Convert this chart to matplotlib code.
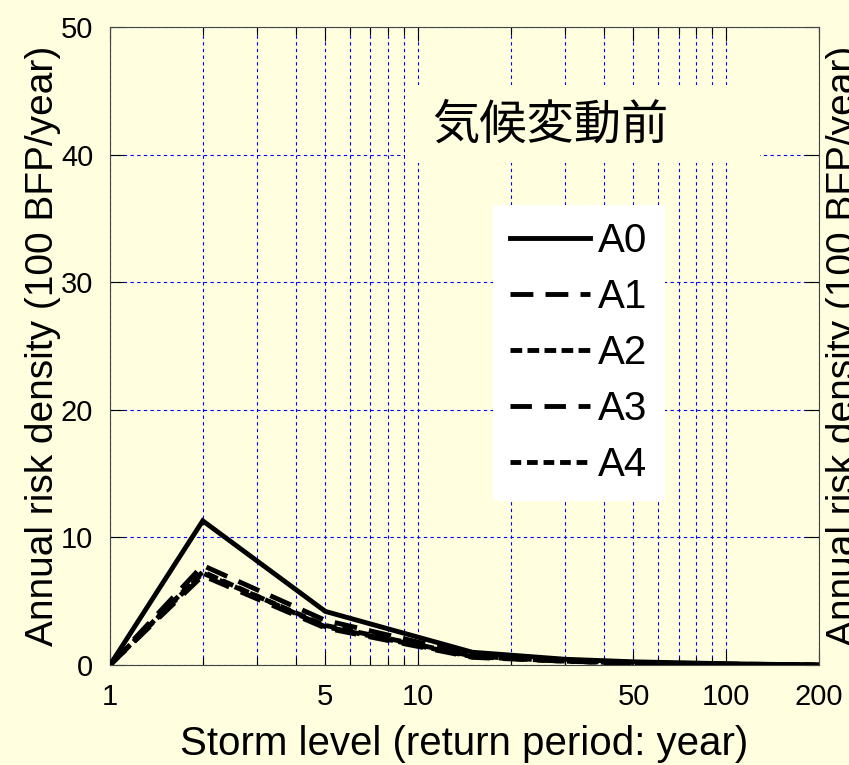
import matplotlib
matplotlib.use("Agg")
import matplotlib.pyplot as plt
from matplotlib.ticker import FixedLocator, FixedFormatter, NullFormatter
from matplotlib.patches import Rectangle

# ---- data ----
return_period = [1, 2, 5, 15, 30, 50, 100, 200]
A0 = [0.0, 11.3, 4.2, 1.0, 0.45, 0.25, 0.10, 0.0]
A1 = [0.0, 7.8, 3.5, 0.8, 0.35, 0.20, 0.08, 0.0]
A2 = [0.0, 7.3, 3.0, 0.65, 0.30, 0.15, 0.05, 0.0]
A3 = [0.0, 7.0, 2.9, 0.60, 0.30, 0.15, 0.05, 0.0]
A4 = [0.0, 7.2, 3.1, 0.70, 0.30, 0.15, 0.05, 0.0]
series_names = ["A0", "A1", "A2", "A3", "A4"]
x_major = [1, 5, 10, 50, 100, 200]
x_major_labels = ["1", "5", "10", "50", "100", "200"]
x_minor = [2, 3, 4, 6, 7, 8, 9, 20, 30, 40, 60, 70, 80, 90]
y_ticks = [0, 10, 20, 30, 40, 50]
title_text = "気候変動前"
xlabel = "Storm level (return period: year)"
ylabel = "Annual risk density (100 BFP/year)"

BG = "#FFFFE0"
plt.rcParams['font.family'] = ['Liberation Sans', 'Noto Sans CJK JP', 'DejaVu Sans']

fig = plt.figure(figsize=(8.49, 7.65), dpi=100, facecolor=BG)
ax = fig.add_axes([110/849, 100/765, 709/849, 638/765])
ax.set_facecolor(BG)
ax.set_xscale('log')
ax.set_xlim(1, 200)
ax.set_ylim(0, 50)

lw = 3.5
styles = [
    dict(linestyle='-'),
    dict(linestyle=(0, (4.7, 2.5))),
    dict(linestyle=(0, (2.4, 1.1))),
    dict(linestyle=(0, (4.4, 2.6))),
    dict(linestyle=(0, (2.2, 1.2))),
]
for name, vals, st in zip(series_names, [A0, A1, A2, A3, A4], styles):
    ax.plot(return_period, vals, color='black', lw=lw, label=name,
            solid_joinstyle='miter', dash_capstyle='butt', zorder=5, **st)

ax.xaxis.set_major_locator(FixedLocator(x_major))
ax.xaxis.set_major_formatter(FixedFormatter(x_major_labels))
ax.xaxis.set_minor_locator(FixedLocator(x_minor))
ax.xaxis.set_minor_formatter(NullFormatter())
ax.set_yticks(y_ticks)

ax.tick_params(axis='both', which='both', direction='in', top=True, right=True,
               labelsize=21, color='black', labelcolor='black', width=0.8)
ax.tick_params(which='major', length=10)
ax.tick_params(axis='x', which='major', pad=13)
ax.tick_params(axis='y', which='major', pad=12)
ax.tick_params(which='minor', length=6)

gridkw = dict(color='#0000FF', linestyle=(0, (3, 3)), linewidth=0.8)
ax.grid(True, which='major', axis='both', **gridkw)
ax.grid(True, which='minor', axis='x', **gridkw)
ax.set_axisbelow(True)

for sp in ax.spines.values():
    sp.set_color('#444444')
    sp.set_linewidth(0.8)

ax.set_xlabel(xlabel, fontsize=29, labelpad=10)
ax.set_ylabel(ylabel, fontsize=28, labelpad=0)

# right-side (partly outside the canvas, as in the reference) y label
fig.text(826/849, 0.5475, ylabel, rotation=90, ha='left', va='center', fontsize=28)

# title box
ax.add_patch(Rectangle((0.416, 0.787), 0.501, 0.122, transform=ax.transAxes,
                       facecolor=BG, edgecolor='none', zorder=3))
ax.text(0.621, 0.846, title_text, transform=ax.transAxes, ha='center', va='center',
        fontsize=34, family=['Noto Sans CJK JP', 'DejaVu Sans'], zorder=4)

leg = ax.legend(loc='upper left', bbox_to_anchor=(0.540, 0.721), fontsize=29,
                frameon=True, fancybox=False, framealpha=1, facecolor='white',
                edgecolor='none', borderaxespad=0, handlelength=2.0,
                handletextpad=0.2, borderpad=0.42, labelspacing=0.45)
leg.set_zorder(6)

fig.savefig("out.png", dpi=100, facecolor=BG)
